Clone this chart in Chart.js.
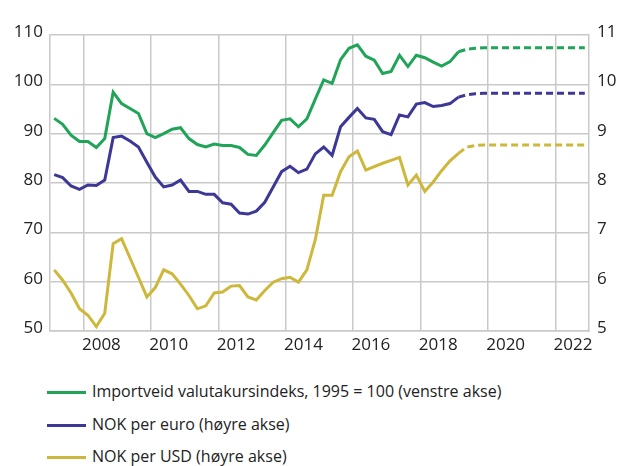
<!DOCTYPE html>
<html lang="no">
<head>
<meta charset="utf-8">
<script src="https://cdn.jsdelivr.net/npm/chart.js@4/dist/chart.umd.min.js"></script>
<style>
  body { margin: 0; background: #fff; font-family: "Open Sans", sans-serif; }
  #wrap { position: relative; width: 619px; height: 466px; }
  #box { position: absolute; left: 0; top: 0; width: 619px; height: 362px; }
  #legend { position: absolute; left: 47px; top: 375px; }
  .item { display: flex; align-items: center; height: 32.5px; font-size: 16px; color: #222; }
  .item span.line { display: inline-block; width: 39px; height: 3px; margin-right: 6px; position: relative; top: 1.5px; }
</style>
</head>
<body>
<div id="wrap">
  <div id="box"><canvas id="kursChart"></canvas></div>
  <div id="legend"></div>
</div>
<script>
// years on the x axis (quarterly data, 2007K1 - 2022K4)
const years = [2007, 2008, 2009, 2010, 2011, 2012, 2013, 2014, 2015, 2016, 2017, 2018, 2019, 2020, 2021, 2022];
const forecastFrom = '2019K1';

// Importveid valutakursindeks, 1995 = 100
const importIndex = [
    93.1, 91.9, 89.7, 88.4, 88.4, 87.2, 89.0, 98.4, 96.1, 95.1, 94.1, 90.0, 89.2, 90.0, 90.9, 91.2,
    89.0, 87.8, 87.3, 87.9, 87.6, 87.6, 87.2, 85.8, 85.6, 87.7, 90.2, 92.7, 93.0, 91.4, 93.0, 97.0,
    100.9, 100.2, 105.0, 107.3, 108.0, 105.7, 104.9, 102.2, 102.6, 105.9, 103.6, 105.9, 105.4, 104.5, 103.7, 104.6,
    106.6, 107.1, 107.3, 107.4, 107.4, 107.4, 107.4, 107.4, 107.4, 107.4, 107.4, 107.4, 107.4, 107.4, 107.4, 107.4
];
// NOK per euro
const nokEur = [
    8.17, 8.11, 7.94, 7.87, 7.96, 7.95, 8.06, 8.92, 8.95, 8.85, 8.73, 8.42, 8.12, 7.92, 7.96, 8.06,
    7.83, 7.83, 7.77, 7.77, 7.60, 7.57, 7.39, 7.37, 7.43, 7.61, 7.92, 8.23, 8.34, 8.21, 8.28, 8.59,
    8.73, 8.56, 9.14, 9.33, 9.51, 9.32, 9.29, 9.04, 8.98, 9.38, 9.34, 9.60, 9.63, 9.55, 9.57, 9.61,
    9.74, 9.79, 9.81, 9.82, 9.82, 9.82, 9.82, 9.82, 9.82, 9.82, 9.82, 9.82, 9.82, 9.82, 9.82, 9.82
];
// NOK per USD
const nokUsd = [
    6.24, 6.03, 5.77, 5.45, 5.32, 5.09, 5.36, 6.77, 6.87, 6.48, 6.09, 5.69, 5.88, 6.24, 6.16, 5.95,
    5.72, 5.45, 5.51, 5.77, 5.79, 5.91, 5.92, 5.69, 5.63, 5.82, 5.99, 6.06, 6.09, 5.99, 6.24, 6.85,
    7.75, 7.75, 8.23, 8.53, 8.65, 8.26, 8.33, 8.40, 8.46, 8.52, 7.96, 8.16, 7.83, 8.02, 8.25, 8.45,
    8.60, 8.73, 8.76, 8.77, 8.77, 8.77, 8.77, 8.77, 8.77, 8.77, 8.77, 8.77, 8.77, 8.77, 8.77, 8.77
];

const quarters = [];
years.forEach(y => { for (let q = 1; q <= 4; q++) quarters.push(y + 'K' + q); });
const lastActual = quarters.indexOf(forecastFrom);

const gridGrey = '#c9c9c9';
const tickFont = { family: 'Open Sans', size: 17 };

function series(label, data, color, axis) {
    return {
        label: label,
        data: data,
        yAxisID: axis,
        borderColor: color,
        backgroundColor: color,
        borderWidth: 3,
        pointRadius: 0,
        tension: 0,
        segment: {
            borderDash: ctx => ctx.p0DataIndex >= lastActual ? [7, 4] : undefined
        }
    };
}

// even years get a grid line and a label
const isEvenYearStart = lbl => lbl && lbl.endsWith('K1') && parseInt(lbl) % 2 === 0;

document.addEventListener('DOMContentLoaded', () => {
    const ctx = document.getElementById('kursChart').getContext('2d');
    const kursChart = new Chart(ctx, {
        type: 'line',
        data: {
            labels: quarters,
            datasets: [
                series('Importveid valutakursindeks, 1995 = 100 (venstre akse)', importIndex, '#20a457', 'y'),
                series('NOK per euro (høyre akse)', nokEur, '#3d3895', 'y2'),
                series('NOK per USD (høyre akse)', nokUsd, '#cdb83c', 'y2')
            ]
        },
        options: {
            responsive: true,
            maintainAspectRatio: false,
            animation: false,
            layout: { padding: { top: 35, left: 0, right: 0, bottom: 0 } },
            plugins: {
                legend: { display: false },
                tooltip: { enabled: false }
            },
            scales: {
                x: {
                    offset: true,
                    grid: {
                        offset: true,
                        drawTicks: false,
                        lineWidth: 1.5,
                        color: c => c.tick && isEvenYearStart(quarters[c.index]) ? gridGrey : 'rgba(0,0,0,0)'
                    },
                    border: { display: true, color: gridGrey, width: 1.5 },
                    ticks: {
                        autoSkip: false,
                        maxRotation: 0,
                        padding: 4,
                        labelOffset: 13.5,
                        color: '#222',
                        font: tickFont,
                        callback: (value, index) => isEvenYearStart(quarters[index]) ? quarters[index].slice(0, 4) : ''
                    },
                    afterFit: scale => { scale.height = 31; }
                },
                y: {
                    position: 'left',
                    min: 50,
                    max: 110,
                    grid: { drawTicks: false, lineWidth: 1.5, color: gridGrey },
                    border: { display: true, color: gridGrey, width: 1.5 },
                    ticks: { stepSize: 10, padding: 7, labelOffset: -3, color: '#222', font: tickFont },
                    afterFit: scale => { scale.width = 50; }
                },
                y2: {
                    position: 'right',
                    min: 5,
                    max: 11,
                    grid: { display: false, drawTicks: false },
                    border: { display: true, color: gridGrey, width: 1.5 },
                    ticks: { stepSize: 1, padding: 8, labelOffset: -3, color: '#222', font: tickFont },
                    afterFit: scale => { scale.width = 30; }
                }
            }
        }
    });

    // legend, one item per row
    const legend = document.getElementById('legend');
    kursChart.data.datasets.forEach(ds => {
        const row = document.createElement('div');
        row.className = 'item';
        const line = document.createElement('span');
        line.className = 'line';
        line.style.background = ds.borderColor;
        row.appendChild(line);
        row.appendChild(document.createTextNode(ds.label));
        legend.appendChild(row);
    });
});
</script>
</body>
</html>
